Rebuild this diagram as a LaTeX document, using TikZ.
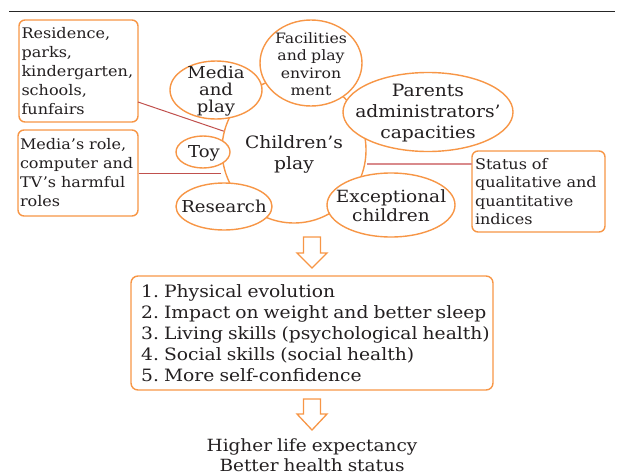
\documentclass[tikz,border=0pt]{standalone}
\usepackage{fontspec}
\setmainfont{DejaVu Serif}[FakeStretch=1.1,WordSpace=0.85]
\usetikzlibrary{shapes.geometric}
\definecolor{org}{HTML}{F79646}
\definecolor{txt}{HTML}{231F20}
\definecolor{dred}{HTML}{C0504D}
\definecolor{pinkl}{HTML}{D98A8C}
\tikzset{
  ell/.style={ellipse,draw=org,line width=1.4pt,fill=white,inner sep=0pt},
  elltext/.style={inner sep=0pt,align=center,text=txt,font=\fontsize{16.4}{19}\selectfont},
  sidebox/.style={draw=org,line width=1.4pt,rounded corners=6pt,fill=white,inner sep=0pt,align=left,text=txt,font=\fontsize{14.6}{19}\selectfont},
  link/.style={draw=dred,line width=1pt},
  hollowarrow/.style={draw=org,line width=1.3pt,fill=white,line join=miter}
}
\begin{document}
\frenchspacing
\begin{tikzpicture}[x=1pt,y=-1pt]
\useasboundingbox (0,0) rectangle (617,474);
% top rule
\coordinate (ra) at (9,11);
\coordinate (rb) at (615,11);
\draw[line width=1pt,black!85] (ra) -- (rb);

% central
\node[ell,minimum width=144pt,minimum height=146pt] (cp) at (294,150) {};
\node[elltext,font=\fontsize{17}{21}\selectfont] (cpt) at (294,154) {Children’s\\play};

% side boxes
\node[sidebox,minimum width=119pt,minimum height=102pt,text width=114pt] (res) at (78.5,71) {Residence,\\parks,\\kindergarten,\\schools,\\funfairs};
\node[sidebox,minimum width=120pt,minimum height=86pt,text width=116pt] (mr) at (78,173) {Media’s role,\\computer and\\TV’s harmful\\roles};
\node[sidebox,minimum width=133pt,minimum height=81pt,text width=127pt,font=\fontsize{14.6}{18.5}\selectfont] (st) at (538.5,191.5) {Status of\\qualitative and\\quantitative\\indices};

% connectors
\coordinate (r1) at (138,102);
\draw[link] (r1) -- (cp.165);
\draw[link] (mr.east) -- (mr.east -| cp.west);
\coordinate (s1) at (472,164);
\draw[draw=pinkl,line width=2pt] (s1) -- (s1 -| cp.east);

% surrounding ellipses
\node[ell,minimum width=92pt,minimum height=58pt] (mp) at (216,90) {};
\node[elltext,font=\fontsize{16.4}{17}\selectfont] (mpt) at (216,91) {Media\\and\\play};
\node[ell,minimum width=102pt,minimum height=86pt] (fac) at (311,63) {};
\node[elltext,font=\fontsize{14.3}{17.5}\selectfont] (fact) at (311,64) {Facilities\\and play\\environ\\ment};
\node[ell,minimum width=170pt,minimum height=79pt] (par) at (428,112) {};
\node[elltext,font=\fontsize{17}{21}\selectfont] (part) at (428,113) {Parents\\administrators’\\capacities};
\node[ell,minimum width=54pt,minimum height=32pt] (toy) at (203,152) {};
\node[elltext] (toyt) at (204,153) {Toy};
\node[ell,minimum width=96pt,minimum height=47pt] (rs) at (224,206.5) {};
\node[elltext] (rst) at (224,206.5) {Research};
\node[ell,minimum width=128pt,minimum height=64pt] (ex) at (391,205) {};
\node[elltext,font=\fontsize{16.8}{19}\selectfont] (ext) at (391,206) {Exceptional\\children};

% arrows
\coordinate (a1) at (312,237);
\draw[hollowarrow] (a1) ++(-8.5,0) -- ++(17,0) -- ++(0,16) -- ++(6.5,0) -- ++(-15,15) -- ++(-15,-15) -- ++(6.5,0) -- cycle;

\node[draw=org,line width=1.4pt,rounded corners=7pt,minimum width=362pt,minimum height=114pt,inner sep=0pt] (ben) at (312,333) {};
\node[anchor=west,inner sep=0pt,align=left,text=txt,font=\fontsize{17}{21}\selectfont] (bent) at (141,333) {1. Physical evolution\\2. Impact on weight and better sleep\\3. Living skills (psychological health)\\4. Social skills (social health)\\5. More self-confidence};

\coordinate (a2) at (312,399);
\draw[hollowarrow] (a2) ++(-8.5,0) -- ++(17,0) -- ++(0,15) -- ++(6.5,0) -- ++(-15,16) -- ++(-15,-16) -- ++(6.5,0) -- cycle;

\node[text=txt,align=center,font=\fontsize{16.8}{20}\selectfont] (out) at (312,455) {Higher life expectancy\\Better health status};
\end{tikzpicture}
\end{document}
